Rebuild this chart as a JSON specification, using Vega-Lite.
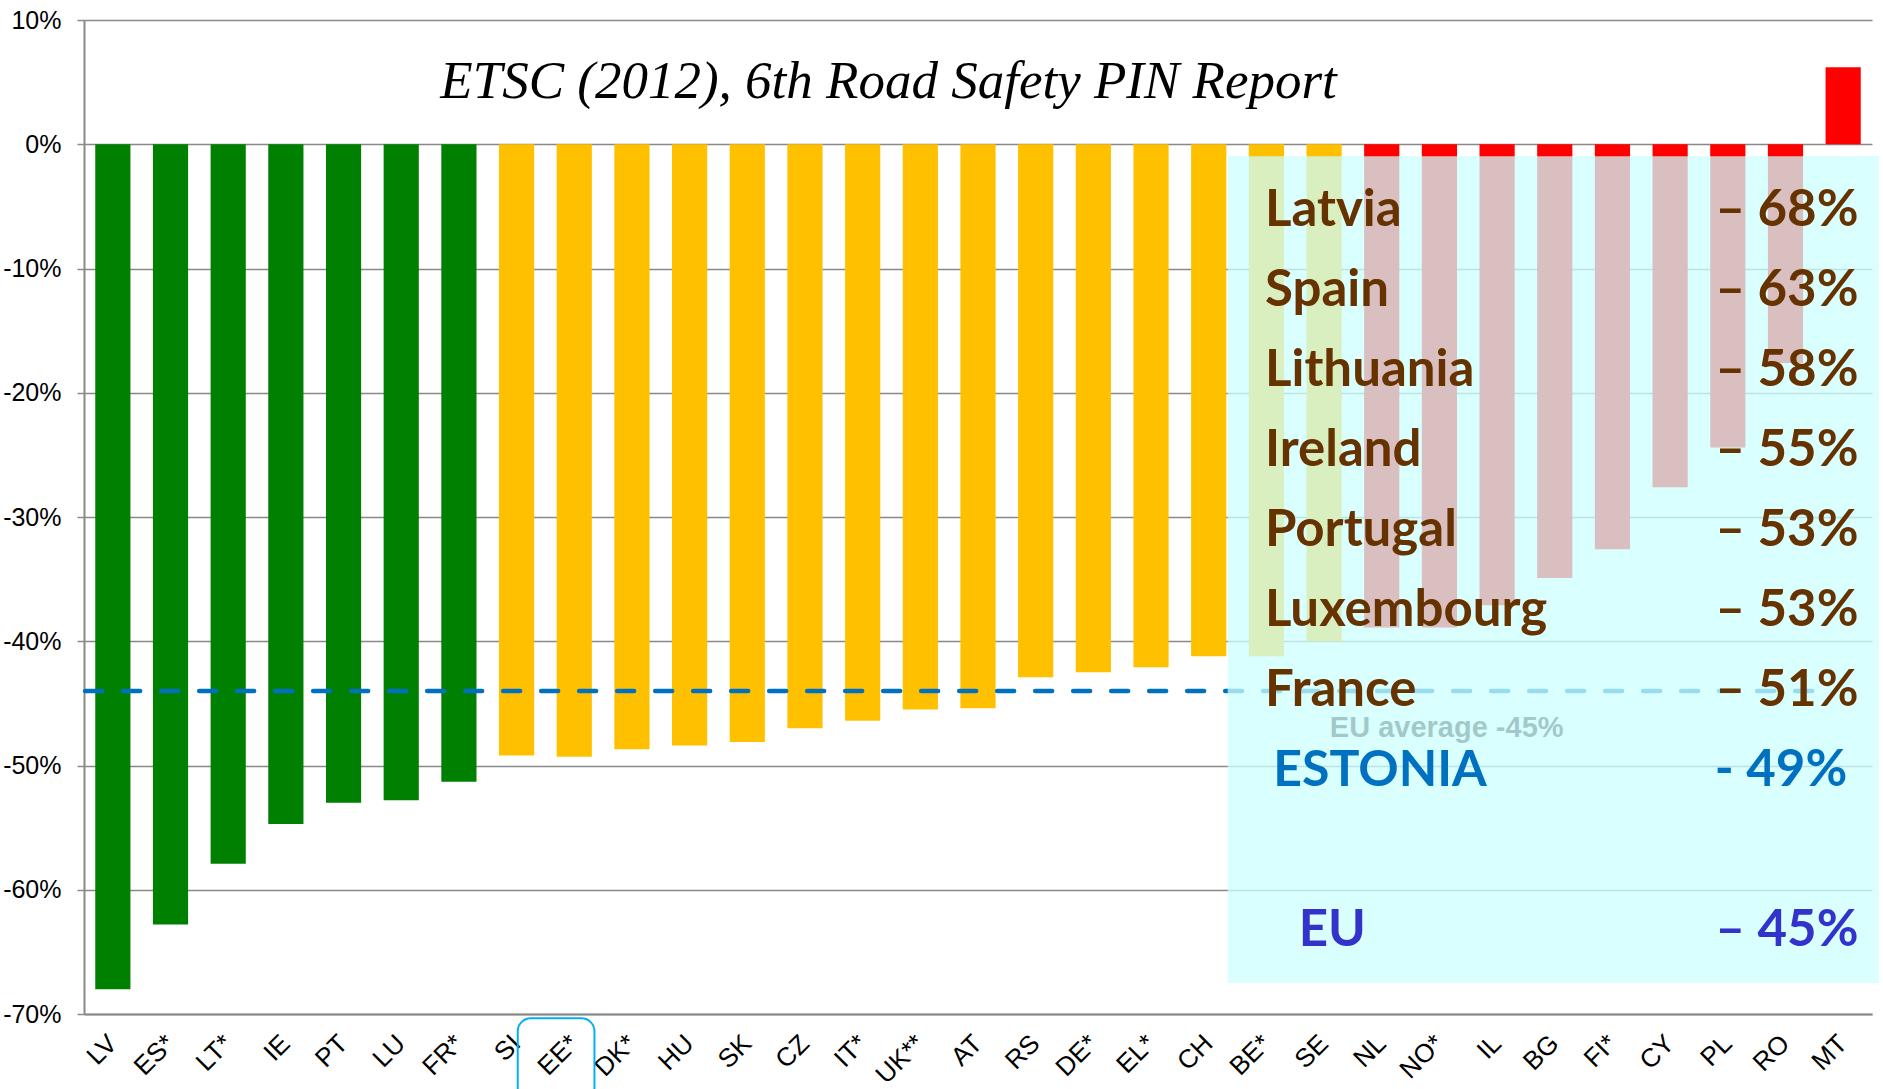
{
  "$schema": "https://vega.github.io/schema/vega-lite/v6.json",
  "width": 1788,
  "height": 994,
  "autosize": {"type": "none"},
  "padding": {"left": 84, "top": 20, "right": 11, "bottom": 75},
  "background": "white",
  "config": {"view": {"stroke": null}},
  "datasets": {
    "bars": [
      {"country": "LV", "change": -0.68, "tier": "best"},
      {"country": "ES*", "change": -0.628, "tier": "best"},
      {"country": "LT*", "change": -0.579, "tier": "best"},
      {"country": "IE", "change": -0.547, "tier": "best"},
      {"country": "PT", "change": -0.530, "tier": "best"},
      {"country": "LU", "change": -0.528, "tier": "best"},
      {"country": "FR*", "change": -0.513, "tier": "best"},
      {"country": "SI", "change": -0.492, "tier": "middle"},
      {"country": "EE*", "change": -0.493, "tier": "middle"},
      {"country": "DK*", "change": -0.487, "tier": "middle"},
      {"country": "HU", "change": -0.484, "tier": "middle"},
      {"country": "SK", "change": -0.481, "tier": "middle"},
      {"country": "CZ", "change": -0.470, "tier": "middle"},
      {"country": "IT*", "change": -0.464, "tier": "middle"},
      {"country": "UK**", "change": -0.455, "tier": "middle"},
      {"country": "AT", "change": -0.454, "tier": "middle"},
      {"country": "RS", "change": -0.429, "tier": "middle"},
      {"country": "DE*", "change": -0.425, "tier": "middle"},
      {"country": "EL*", "change": -0.421, "tier": "middle"},
      {"country": "CH", "change": -0.412, "tier": "middle"},
      {"country": "BE*", "change": -0.412, "tier": "middle"},
      {"country": "SE", "change": -0.400, "tier": "middle"},
      {"country": "NL", "change": -0.389, "tier": "worst"},
      {"country": "NO*", "change": -0.389, "tier": "worst"},
      {"country": "IL", "change": -0.371, "tier": "worst"},
      {"country": "BG", "change": -0.349, "tier": "worst"},
      {"country": "FI*", "change": -0.326, "tier": "worst"},
      {"country": "CY", "change": -0.276, "tier": "worst"},
      {"country": "PL", "change": -0.244, "tier": "worst"},
      {"country": "RO", "change": -0.176, "tier": "worst"},
      {"country": "MT", "change": 0.062, "tier": "worst"}
    ],
    "summary": [
      {"name": "Latvia", "pct": "– 68%", "kind": "country"},
      {"name": "Spain", "pct": "– 63%", "kind": "country"},
      {"name": "Lithuania", "pct": "– 58%", "kind": "country"},
      {"name": "Ireland", "pct": "– 55%", "kind": "country"},
      {"name": "Portugal", "pct": "– 53%", "kind": "country"},
      {"name": "Luxembourg", "pct": "– 53%", "kind": "country"},
      {"name": "France", "pct": "– 51%", "kind": "country"},
      {"name": "ESTONIA", "pct": "- 49%", "kind": "estonia"},
      {"name": "EU", "pct": "– 45%", "kind": "eu"}
    ],
    "average": [
      {"label": "EU average -45%", "change": -0.44}
    ]
  },
  "resolve": {"scale": {"x": "independent", "y": "independent"}},
  "layer": [
    {
      "data": {"name": "bars"},
      "mark": {"type": "bar"},
      "encoding": {
        "x": {
          "field": "country", "type": "nominal", "sort": null,
          "scale": {"paddingInner": 0.39, "paddingOuter": 0.195},
          "axis": {
            "title": null, "labelAngle": -45, "labelAlign": "right", "labelBaseline": "middle",
            "labelPadding": 25, "ticks": false, "grid": false,
            "domain": true, "domainColor": "#898989", "domainWidth": 2,
            "labelFont": "Liberation Sans", "labelFontSize": 26, "labelColor": "black"
          }
        },
        "y": {
          "field": "change", "type": "quantitative",
          "scale": {"domain": [-0.7, 0.1], "nice": false},
          "axis": {
            "title": null,
            "values": [-0.7, -0.6, -0.5, -0.4, -0.3, -0.2, -0.1, 0, 0.1],
            "labelExpr": "round(datum.value*100) + '%'",
            "grid": true, "gridColor": "#898989", "gridWidth": 1.5,
            "domain": true, "domainColor": "#898989", "domainWidth": 2,
            "ticks": true, "tickColor": "#898989", "tickSize": 7, "tickWidth": 1.5,
            "labelPadding": 16, "labelFont": "Liberation Sans", "labelFontSize": 25, "labelColor": "black"
          }
        },
        "color": {
          "field": "tier", "type": "nominal",
          "scale": {"domain": ["best", "middle", "worst"], "range": ["#008000", "#FFC000", "#FF0000"]},
          "legend": null
        }
      }
    },
    {
      "data": {"name": "average"},
      "mark": {"type": "rule", "color": "#0070C0", "strokeWidth": 4.5, "strokeDash": [17, 21], "strokeCap": "round"},
      "encoding": {
        "x": {"datum": 0.02, "type": "quantitative", "scale": {"domain": [0, 31], "nice": false, "zero": false}, "axis": null},
        "x2": {"datum": 30.1},
        "y": {"field": "change", "type": "quantitative", "scale": {"domain": [-0.7, 0.1], "nice": false}, "axis": null}
      }
    },
    {
      "data": {"name": "average"},
      "mark": {"type": "text", "font": "Liberation Sans", "fontWeight": "bold", "fontSize": 29, "color": "#262626", "align": "left", "baseline": "alphabetic", "dy": 46},
      "encoding": {
        "x": {"datum": 21.6, "type": "quantitative", "scale": {"domain": [0, 31], "nice": false, "zero": false}, "axis": null},
        "y": {"field": "change", "type": "quantitative", "scale": {"domain": [-0.7, 0.1], "nice": false}, "axis": null},
        "text": {"field": "label"}
      }
    },
    {
      "data": {"values": [{"panel": "summary"}]},
      "mark": {"type": "rect", "fill": "#CCFFFF", "fillOpacity": 0.75, "strokeWidth": 0},
      "encoding": {
        "x": {"datum": 19.83, "type": "quantitative", "scale": {"domain": [0, 31], "nice": false, "zero": false}, "axis": null},
        "x2": {"datum": 31.12},
        "y": {"datum": -0.0097, "type": "quantitative", "scale": {"domain": [-0.7, 0.1], "nice": false}, "axis": null},
        "y2": {"datum": -0.675}
      }
    },
    {
      "data": {"values": [{"title": "ETSC (2012), 6th Road Safety PIN Report"}]},
      "mark": {"type": "text", "font": "Liberation Serif", "fontStyle": "italic", "fontSize": 53, "color": "black", "align": "center", "baseline": "alphabetic"},
      "encoding": {
        "x": {"datum": 13.95, "type": "quantitative", "scale": {"domain": [0, 31], "nice": false, "zero": false}, "axis": null},
        "y": {"datum": 0.037, "type": "quantitative", "scale": {"domain": [-0.7, 0.1], "nice": false}, "axis": null},
        "text": {"field": "title"}
      }
    },
    {
      "data": {"name": "summary"},
      "transform": [{"filter": "datum.kind == 'country'"}],
      "mark": {"type": "text", "font": "Lato", "fontWeight": "bold", "fontSize": 51, "color": "#663300", "align": "left", "baseline": "alphabetic"},
      "encoding": {
        "x": {"datum": 20.475, "type": "quantitative", "scale": {"domain": [0, 31], "nice": false, "zero": false}, "axis": null},
        "y": {"field": "name", "type": "nominal", "scale": {"type": "point", "domain": ["Latvia", "Spain", "Lithuania", "Ireland", "Portugal", "Luxembourg", "France", "ESTONIA", "gap", "EU"], "range": [206, 926], "padding": 0}, "axis": null},
        "text": {"field": "name"}
      }
    },
    {
      "data": {"name": "summary"},
      "transform": [{"filter": "datum.kind == 'country'"}],
      "mark": {"type": "text", "font": "Lato", "fontWeight": "bold", "fontSize": 51, "color": "#663300", "align": "right", "baseline": "alphabetic"},
      "encoding": {
        "x": {"datum": 30.765, "type": "quantitative", "scale": {"domain": [0, 31], "nice": false, "zero": false}, "axis": null},
        "y": {"field": "name", "type": "nominal", "scale": {"type": "point", "domain": ["Latvia", "Spain", "Lithuania", "Ireland", "Portugal", "Luxembourg", "France", "ESTONIA", "gap", "EU"], "range": [206, 926], "padding": 0}, "axis": null},
        "text": {"field": "pct"}
      }
    },
    {
      "data": {"name": "summary"},
      "transform": [{"filter": "datum.kind == 'estonia'"}],
      "mark": {"type": "text", "font": "Lato", "fontWeight": "bold", "fontSize": 50, "color": "#0070C0", "align": "left", "baseline": "alphabetic"},
      "encoding": {
        "x": {"datum": 20.62, "type": "quantitative", "scale": {"domain": [0, 31], "nice": false, "zero": false}, "axis": null},
        "y": {"field": "name", "type": "nominal", "scale": {"type": "point", "domain": ["Latvia", "Spain", "Lithuania", "Ireland", "Portugal", "Luxembourg", "France", "ESTONIA", "gap", "EU"], "range": [206, 926], "padding": 0}, "axis": null},
        "text": {"field": "name"}
      }
    },
    {
      "data": {"name": "summary"},
      "transform": [{"filter": "datum.kind == 'estonia'"}],
      "mark": {"type": "text", "font": "Lato", "fontWeight": "bold", "fontSize": 51, "color": "#0070C0", "align": "right", "baseline": "alphabetic"},
      "encoding": {
        "x": {"datum": 30.57, "type": "quantitative", "scale": {"domain": [0, 31], "nice": false, "zero": false}, "axis": null},
        "y": {"field": "name", "type": "nominal", "scale": {"type": "point", "domain": ["Latvia", "Spain", "Lithuania", "Ireland", "Portugal", "Luxembourg", "France", "ESTONIA", "gap", "EU"], "range": [206, 926], "padding": 0}, "axis": null},
        "text": {"field": "pct"}
      }
    },
    {
      "data": {"name": "summary"},
      "transform": [{"filter": "datum.kind == 'eu'"}],
      "mark": {"type": "text", "font": "Lato", "fontWeight": "bold", "fontSize": 51, "color": "#3333CC", "align": "left", "baseline": "alphabetic"},
      "encoding": {
        "x": {"datum": 21.06, "type": "quantitative", "scale": {"domain": [0, 31], "nice": false, "zero": false}, "axis": null},
        "y": {"field": "name", "type": "nominal", "scale": {"type": "point", "domain": ["Latvia", "Spain", "Lithuania", "Ireland", "Portugal", "Luxembourg", "France", "ESTONIA", "gap", "EU"], "range": [206, 926], "padding": 0}, "axis": null},
        "text": {"field": "name"}
      }
    },
    {
      "data": {"name": "summary"},
      "transform": [{"filter": "datum.kind == 'eu'"}],
      "mark": {"type": "text", "font": "Lato", "fontWeight": "bold", "fontSize": 51, "color": "#3333CC", "align": "right", "baseline": "alphabetic"},
      "encoding": {
        "x": {"datum": 30.765, "type": "quantitative", "scale": {"domain": [0, 31], "nice": false, "zero": false}, "axis": null},
        "y": {"field": "name", "type": "nominal", "scale": {"type": "point", "domain": ["Latvia", "Spain", "Lithuania", "Ireland", "Portugal", "Luxembourg", "France", "ESTONIA", "gap", "EU"], "range": [206, 926], "padding": 0}, "axis": null},
        "text": {"field": "pct"}
      }
    },
    {
      "data": {"values": [{"highlight": "EE*"}]},
      "mark": {"type": "rect", "fill": "white", "fillOpacity": 0, "stroke": "#00B0F0", "strokeWidth": 2, "cornerRadius": 13},
      "encoding": {
        "x": {"datum": 7.52, "type": "quantitative", "scale": {"domain": [0, 31], "nice": false, "zero": false}, "axis": null},
        "x2": {"datum": 8.85},
        "y": {"datum": -0.7035, "type": "quantitative", "scale": {"domain": [-0.7, 0.1], "nice": false}, "axis": null},
        "y2": {"datum": -0.77}
      }
    }
  ]
}
